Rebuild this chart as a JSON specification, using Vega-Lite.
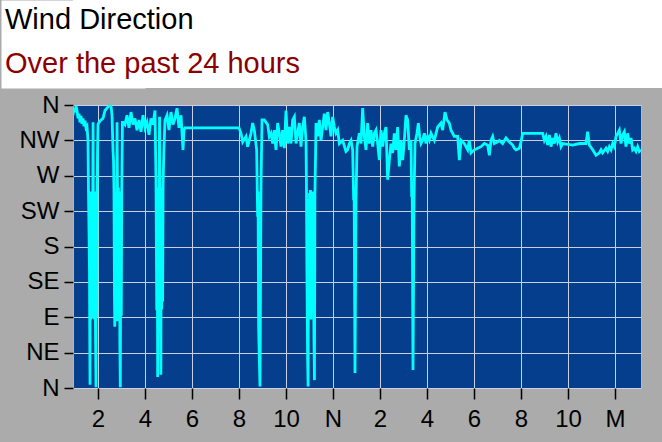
{
  "$schema": "https://vega.github.io/schema/vega-lite/v6.json",
  "background": "#ABABAB",
  "padding": {"left": 0, "top": 0, "right": 0, "bottom": 20},
  "spacing": 4,
  "bounds": "full",
  "datasets": {
    "titles": [
      {"r": "a", "t": "Wind Direction"},
      {"r": "b", "t": "Over the past 24 hours"}
    ],
    "wind": [
      {"h":0.936,"d":347},{"h":0.979,"d":356},{"h":1.021,"d":351},{"h":1.064,"d":359},{"h":1.106,"d":353},{"h":1.149,"d":343},{"h":1.191,"d":349},{"h":1.234,"d":338},{"h":1.277,"d":346},{"h":1.319,"d":336},{"h":1.362,"d":343},{"h":1.404,"d":333},{"h":1.447,"d":340},{"h":1.489,"d":331},{"h":1.532,"d":333},
      {"h":1.574,"d":315},{"h":1.595,"d":252},{"h":1.617,"d":200},{"h":1.638,"d":150},{"h":1.65,"d":60},{"h":1.66,"d":4},{"h":1.672,"d":200},{"h":1.69,"d":87},{"h":1.71,"d":250},{"h":1.73,"d":90},{"h":1.75,"d":245},{"h":1.76,"d":90},{"h":1.78,"d":255},{"h":1.79,"d":338},{"h":1.8,"d":255},{"h":1.82,"d":88},{"h":1.84,"d":250},{"h":1.86,"d":87},{"h":1.875,"d":245},{"h":1.89,"d":92},{"h":1.905,"d":30},{"h":1.915,"d":1},{"h":1.93,"d":240},{"h":1.95,"d":90},{"h":1.96,"d":248},{"h":1.98,"d":300},{"h":2.0,"d":335},
      {"h":2.043,"d":338},{"h":2.128,"d":341},{"h":2.213,"d":343},{"h":2.298,"d":353},{"h":2.383,"d":356},{"h":2.468,"d":359},{"h":2.553,"d":359},{"h":2.596,"d":347},
      {"h":2.638,"d":303},{"h":2.66,"d":290},{"h":2.68,"d":250},{"h":2.7,"d":120},{"h":2.715,"d":78},{"h":2.73,"d":240},{"h":2.75,"d":85},{"h":2.77,"d":250},{"h":2.79,"d":90},{"h":2.81,"d":338},{"h":2.83,"d":250},{"h":2.85,"d":85},{"h":2.87,"d":255},{"h":2.89,"d":88},{"h":2.91,"d":245},{"h":2.93,"d":60},{"h":2.95,"d":1},{"h":2.97,"d":250},{"h":2.99,"d":92},{"h":3.01,"d":252},{"h":3.04,"d":338},
      {"h":3.064,"d":338},{"h":3.149,"d":335},{"h":3.234,"d":347},{"h":3.319,"d":331},{"h":3.404,"d":351},{"h":3.489,"d":335},{"h":3.574,"d":343},{"h":3.66,"d":328},{"h":3.745,"d":341},{"h":3.83,"d":326},{"h":3.915,"d":347},{"h":4.0,"d":331},{"h":4.085,"d":338},{"h":4.17,"d":322},{"h":4.255,"d":343},{"h":4.34,"d":335},
      {"h":4.426,"d":353},{"h":4.45,"d":300},{"h":4.468,"d":265},{"h":4.49,"d":150},{"h":4.5,"d":99},{"h":4.52,"d":250},{"h":4.54,"d":14},{"h":4.56,"d":255},{"h":4.58,"d":100},{"h":4.6,"d":250},{"h":4.62,"d":345},{"h":4.64,"d":260},{"h":4.66,"d":99},{"h":4.675,"d":17},{"h":4.69,"d":250},{"h":4.71,"d":100},{"h":4.73,"d":255},{"h":4.75,"d":110},{"h":4.77,"d":260},{"h":4.8,"d":300},
      {"h":4.851,"d":341},{"h":4.936,"d":347},{"h":5.021,"d":328},{"h":5.106,"d":351},{"h":5.191,"d":335},{"h":5.277,"d":343},{"h":5.362,"d":356},{"h":5.447,"d":331},{"h":5.532,"d":347},{"h":5.617,"d":303},{"h":5.66,"d":328},{"h":5.702,"d":331},{"h":8.0,"d":331},
      {"h":8.085,"d":324},{"h":8.157,"d":313},{"h":8.298,"d":320},{"h":8.369,"d":307},{"h":8.511,"d":324},{"h":8.582,"d":337},{"h":8.652,"d":328},{"h":8.752,"d":303},{"h":8.794,"d":218},{"h":8.81,"d":250},{"h":8.837,"d":74},{"h":8.894,"d":2},{"h":8.936,"d":256},{"h":8.979,"d":341},{"h":9.077,"d":341},{"h":9.22,"d":335},{"h":9.29,"d":320},{"h":9.362,"d":324},{"h":9.433,"d":311},{"h":9.504,"d":328},{"h":9.574,"d":303},{"h":9.645,"d":337},{"h":9.716,"d":324},{"h":9.787,"d":307},{"h":9.858,"d":328},{"h":9.929,"d":305},{"h":10.0,"d":353},{"h":10.071,"d":311},{"h":10.142,"d":332},{"h":10.213,"d":311},{"h":10.284,"d":341},{"h":10.355,"d":345},{"h":10.426,"d":311},{"h":10.496,"d":324},{"h":10.567,"d":337},{"h":10.638,"d":307},{"h":10.709,"d":332},{"h":10.78,"d":345},
      {"h":10.851,"d":315},{"h":10.87,"d":260},{"h":10.89,"d":150},{"h":10.92,"d":40},{"h":10.94,"d":2},{"h":10.96,"d":240},{"h":10.98,"d":87},{"h":11.0,"d":248},{"h":11.02,"d":90},{"h":11.04,"d":252},{"h":11.06,"d":87},{"h":11.08,"d":245},{"h":11.1,"d":95},{"h":11.12,"d":250},{"h":11.14,"d":240},{"h":11.16,"d":200},{"h":11.19,"d":60},{"h":11.21,"d":10},{"h":11.23,"d":245},{"h":11.26,"d":300},
      {"h":11.277,"d":337},{"h":11.348,"d":320},{"h":11.418,"d":341},{"h":11.489,"d":315},{"h":11.56,"d":332},{"h":11.631,"d":349},{"h":11.702,"d":328},{"h":11.773,"d":351},{"h":11.844,"d":337},{"h":11.915,"d":320},{"h":11.986,"d":345},{"h":12.057,"d":332},{"h":12.128,"d":324},{"h":12.199,"d":328},{"h":12.27,"d":311},{"h":12.411,"d":315},{"h":12.553,"d":301},
      {"h":12.624,"d":303},{"h":12.695,"d":311},{"h":12.766,"d":315},{"h":12.837,"d":303},{"h":12.88,"d":239},{"h":12.9,"d":250},{"h":12.936,"d":19},{"h":12.979,"d":239},{"h":13.021,"d":307},{"h":13.121,"d":324},{"h":13.191,"d":311},{"h":13.262,"d":356},{"h":13.333,"d":320},{"h":13.404,"d":303},{"h":13.475,"d":337},{"h":13.546,"d":311},{"h":13.617,"d":328},{"h":13.688,"d":307},{"h":13.759,"d":324},{"h":13.83,"d":328},{"h":13.901,"d":311},{"h":13.972,"d":290},{"h":14.043,"d":328},{"h":14.113,"d":307},{"h":14.184,"d":324},{"h":14.255,"d":332},{"h":14.326,"d":265},{"h":14.397,"d":290},{"h":14.468,"d":311},{"h":14.539,"d":299},{"h":14.61,"d":324},{"h":14.681,"d":303},{"h":14.752,"d":332},{"h":14.823,"d":282},{"h":14.894,"d":315},{"h":14.965,"d":290},{"h":15.035,"d":315},{"h":15.106,"d":347},{"h":15.177,"d":341},{"h":15.248,"d":303},{"h":15.319,"d":315},{"h":15.348,"d":243},{"h":15.37,"d":250},{"h":15.404,"d":23},{"h":15.447,"d":239},{"h":15.489,"d":311},{"h":15.574,"d":324},{"h":15.631,"d":337},{"h":15.688,"d":320},{"h":15.745,"d":311},{"h":15.816,"d":315},{"h":15.887,"d":324},{"h":15.957,"d":311},{"h":16.028,"d":320},{"h":16.099,"d":315},{"h":16.17,"d":324},{"h":16.312,"d":315},{"h":16.454,"d":332},{"h":16.596,"d":337},{"h":16.667,"d":328},{"h":16.766,"d":351},{"h":16.851,"d":341},{"h":16.95,"d":337},{"h":17.021,"d":328},{"h":17.163,"d":320},
      {"h":17.305,"d":320},{"h":17.376,"d":290},{"h":17.447,"d":315},{"h":17.589,"d":311},{"h":17.731,"d":303},{"h":17.801,"d":315},{"h":17.872,"d":299},{"h":18.014,"d":303},{"h":18.156,"d":305},{"h":18.298,"d":307},{"h":18.44,"d":311},{"h":18.582,"d":309},{"h":18.652,"d":296},{"h":18.723,"d":315},{"h":18.794,"d":320},{"h":18.865,"d":311},{"h":19.007,"d":313},
      {"h":19.078,"d":315},{"h":19.22,"d":311},{"h":19.362,"d":318},{"h":19.503,"d":313},{"h":19.645,"d":309},{"h":19.716,"d":305},{"h":19.787,"d":303},{"h":19.929,"d":305},{"h":20.0,"d":313},{"h":20.071,"d":324},{"h":20.922,"d":324},{"h":20.993,"d":315},{"h":21.064,"d":320},{"h":21.135,"d":309},{"h":21.206,"d":322},{"h":21.277,"d":307},{"h":21.348,"d":318},{"h":21.418,"d":311},{"h":21.489,"d":324},{"h":21.56,"d":313},{"h":21.631,"d":318},{"h":21.702,"d":307},{"h":21.773,"d":311},{"h":22.199,"d":309},{"h":22.482,"d":311},{"h":22.766,"d":311},{"h":22.837,"d":326},{"h":22.908,"d":309},{"h":23.05,"d":303},{"h":23.191,"d":296},{"h":23.333,"d":299},{"h":23.404,"d":303},{"h":23.475,"d":299},{"h":23.617,"d":305},{"h":23.688,"d":301},{"h":23.759,"d":307},{"h":23.83,"d":303},{"h":23.901,"d":311},{"h":23.972,"d":307},{"h":24.043,"d":320},{"h":24.113,"d":324},{"h":24.184,"d":328},{"h":24.255,"d":311},{"h":24.326,"d":322},{"h":24.397,"d":326},{"h":24.468,"d":307},{"h":24.539,"d":324},{"h":24.61,"d":311},{"h":24.681,"d":318},{"h":24.752,"d":303},{"h":24.823,"d":305},{"h":24.894,"d":301},{"h":24.965,"d":307},{"h":25.035,"d":301},{"h":25.106,"d":303}
    ]
  },
  "vconcat": [
    {
      "width": 590,
      "height": 88,
      "view": {"fill": "#FFFFFF", "stroke": null},
      "data": {"name": "titles"},
      "mark": {"type": "text", "align": "left", "baseline": "alphabetic", "font": "Liberation Sans", "fontSize": 29, "dx": -68, "dy": 7},
      "encoding": {
        "x": {"datum": 0, "type": "quantitative", "scale": {"domain": [0, 1]}, "axis": null},
        "y": {
          "field": "r", "type": "nominal",
          "axis": {"title": null, "labels": false, "ticks": false, "grid": false, "domain": true, "domainColor": "#FFFFFF", "domainWidth": 144, "minExtent": 0, "maxExtent": 72}
        },
        "text": {"field": "t"},
        "color": {"field": "r", "type": "nominal", "scale": {"domain": ["a", "b"], "range": ["#000000", "#8B0000"]}, "legend": null}
      }
    },
    {
      "width": 568,
      "height": 283,
      "view": {"fill": "#063E8E", "stroke": "#A8B8D8", "strokeWidth": 1},
      "data": {"name": "wind"},
      "mark": {"type": "line", "color": "#00FFFF", "strokeWidth": 2.8, "clip": true},
      "encoding": {
        "x": {
          "field": "h", "type": "quantitative",
          "scale": {"domain": [0.936, 25.106], "nice": false, "zero": false},
          "axis": {
            "title": null, "values": [2,4,6,8,10,12,14,16,18,20,22,24],
            "labelExpr": "datum.value == 12 ? 'N' : datum.value == 24 ? 'M' : '' + (datum.value % 12)",
            "domain": false, "grid": true, "gridColor": "#C8D0E4", "gridOpacity": 1, "gridWidth": 1,
            "tickColor": "#000000", "tickSize": 11, "tickWidth": 1.5,
            "labelFont": "Liberation Sans", "labelFontSize": 24, "labelColor": "#000000", "labelPadding": 8,
            "minExtent": 42, "maxExtent": 42
          }
        },
        "y": {
          "field": "d", "type": "quantitative",
          "scale": {"domain": [0, 360], "nice": false, "zero": false},
          "axis": {
            "title": null, "values": [0,45,90,135,180,225,270,315,360],
            "labelExpr": "['N','NE','E','SE','S','SW','W','NW','N'][round(datum.value/45)]",
            "domain": false, "grid": true, "gridColor": "#C8D0E4", "gridOpacity": 1, "gridWidth": 1,
            "tickColor": "#000000", "tickSize": 9, "tickWidth": 1.5,
            "labelFont": "Liberation Sans", "labelFontSize": 24, "labelColor": "#000000", "labelPadding": 5,
            "minExtent": 72, "maxExtent": 72
          }
        }
      }
    }
  ]
}
